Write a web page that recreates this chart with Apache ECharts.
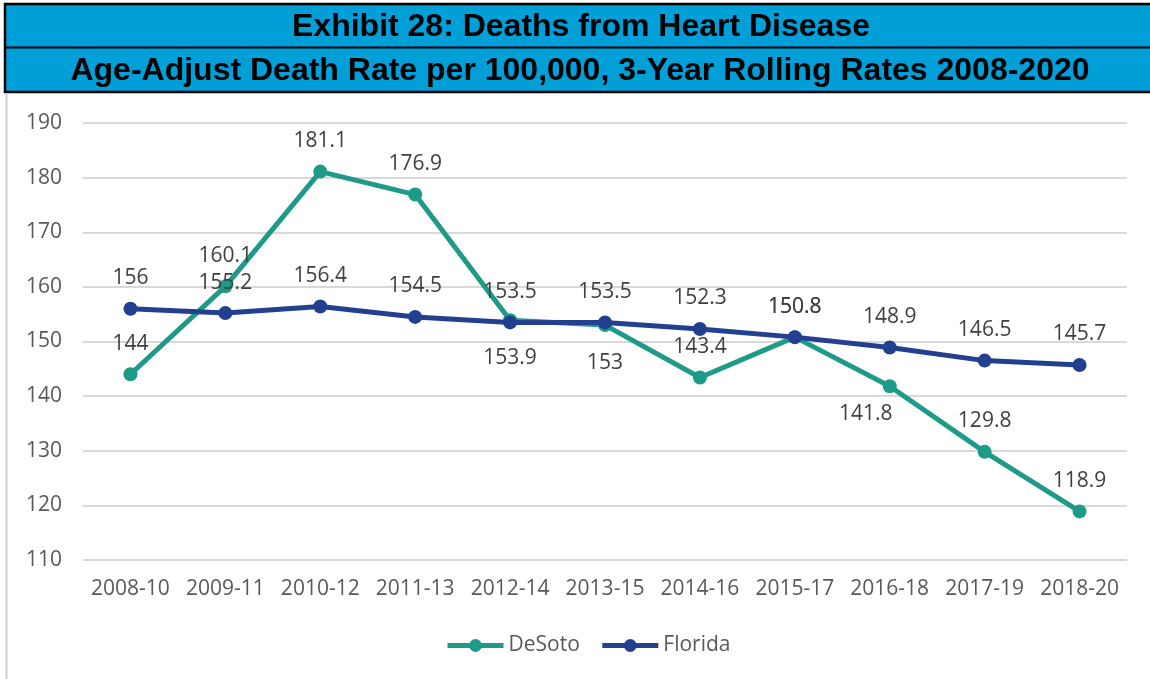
<!DOCTYPE html>
<html>
<head>
<meta charset="utf-8">
<script src="https://cdn.jsdelivr.net/npm/echarts@6/dist/echarts.min.js"></script>
<style>
html,body{margin:0;padding:0;background:#fff;}
#chart{width:1150px;height:679px;}
</style>
</head>
<body>
<div id="chart"></div>
<script>
const categories = ['2008-10','2009-11','2010-12','2011-13','2012-14','2013-15','2014-16','2015-17','2016-18','2017-19','2018-20'];
const desoto = [144, 160.1, 181.1, 176.9, 153.9, 153, 143.4, 150.8, 141.8, 129.8, 118.9];
const florida = [156, 155.2, 156.4, 154.5, 153.5, 153.5, 152.3, 150.8, 148.9, 146.5, 145.7];
// label placement for DeSoto: 'top' or 'bottom'
const desotoLabelPos = ['top','top','top','top','bottom','bottom','top','top','bottom','top','top'];
const titleLine1 = 'Exhibit 28: Deaths from Heart Disease';
const titleLine2 = 'Age-Adjust Death Rate per 100,000, 3-Year Rolling Rates 2008-2020';

const TEAL = '#1e9b88';
const NAVY = '#233f8f';
const FONT = '"Open Sans", "Noto Sans", sans-serif';
const LBL = '#404040';

const chart = echarts.init(document.getElementById('chart'));

const desotoData = desoto.map((v, i) => {
  const pos = desotoLabelPos[i];
  const d = { value: v, label: { position: pos, distance: pos === 'top' ? 13 : 20 } };
  if (i === 8) d.label.offset = [-24, -10];
  return d;
});

chart.setOption({
  animation: false,
  graphic: [
    { type: 'rect', shape: { x: 5, y: 4, width: 1150, height: 88 }, style: { fill: '#009fd8', stroke: '#000', lineWidth: 2.5 } },
    { type: 'line', shape: { x1: 5, y1: 47.5, x2: 1150, y2: 47.5 }, style: { stroke: '#000', lineWidth: 2 } },
    { type: 'line', shape: { x1: 6.5, y1: 93, x2: 6.5, y2: 679 }, style: { stroke: '#d0d0d0', lineWidth: 2 } },
    { type: 'text', x: 581, y: 27, style: { text: titleLine1, fill: '#000', font: 'bold 32px "Liberation Sans", Arial, sans-serif', textAlign: 'center', textVerticalAlign: 'middle' } },
    { type: 'text', x: 580, y: 71, style: { text: titleLine2, fill: '#000', font: 'bold 32px "Liberation Sans", Arial, sans-serif', textAlign: 'center', textVerticalAlign: 'middle' } }
  ],
  grid: { left: 83, right: 23, top: 123, bottom: 119 },
  legend: {
    bottom: 18, left: 440,
    itemWidth: 56, itemHeight: 16, itemGap: 20,
    lineStyle: { width: 5 },
    textStyle: { color: '#595959', fontSize: 21, fontFamily: FONT },
    data: ['DeSoto', 'Florida']
  },
  xAxis: {
    type: 'category', data: categories, boundaryGap: true,
    axisLine: { show: false }, axisTick: { show: false },
    axisLabel: { color: '#595959', fontSize: 21, fontFamily: FONT, margin: 19, interval: 0 }
  },
  yAxis: {
    type: 'value', min: 110, max: 190, interval: 10,
    axisLine: { show: false }, axisTick: { show: false },
    axisLabel: { color: '#595959', fontSize: 21, fontFamily: FONT, margin: 21 },
    splitLine: { lineStyle: { color: '#d9d9d9', width: 2 } }
  },
  series: [
    {
      name: 'DeSoto', type: 'line', data: desotoData,
      symbol: 'circle', symbolSize: 14,
      lineStyle: { color: TEAL, width: 5 }, itemStyle: { color: TEAL },
      label: { show: true, color: LBL, fontSize: 21, fontFamily: FONT },
      z: 2
    },
    {
      name: 'Florida', type: 'line', data: florida,
      symbol: 'circle', symbolSize: 14,
      lineStyle: { color: NAVY, width: 5 }, itemStyle: { color: NAVY },
      label: { show: true, position: 'top', distance: 13, color: LBL, fontSize: 21, fontFamily: FONT },
      z: 3
    }
  ]
});
</script>
</body>
</html>
